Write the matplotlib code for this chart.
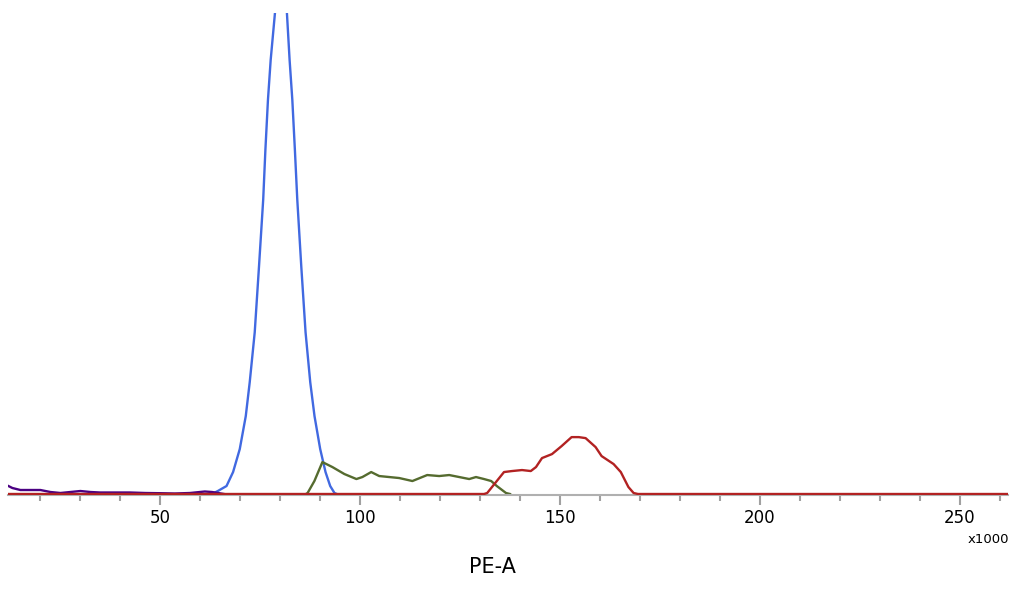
import numpy as np
import matplotlib.pyplot as plt
from matplotlib.ticker import MultipleLocator

# PE-A (x1000) and histogram heights
purple_x = [12.1, 13.1, 15.1, 17.6, 20.1, 22.6, 25.1, 27.6, 30.1, 32.6, 35.0, 40.0, 42.5,
            46.3, 50.0, 53.7, 57.5, 61.2, 63.0, 64.5, 66.0]
purple_y = [8, 6, 4, 4, 4, 2, 1, 2, 3, 2, 1.5, 1.5, 1.5, 1, 0.8, 0.5, 1, 2.5, 2, 1, 0]

blue_x = [63.0, 64.46, 66.63, 68.27, 69.94, 71.44, 72.43, 73.68, 74.75, 75.80, 76.35,
          76.99, 77.67, 78.74, 79.42, 80.23, 81.03, 81.73, 82.40, 83.08, 83.72, 84.32,
          85.32, 86.39, 87.56, 88.63, 90.05, 91.38, 92.55, 93.62, 94.2]
blue_y = [0, 3, 8, 22, 45, 78, 112, 162, 228, 295, 345, 395, 435, 482, 520, 540, 520,
          482, 435, 395, 345, 295, 228, 162, 112, 78, 45, 22, 8, 1, 0]

green_x = [86.5, 86.9, 88.6, 90.6, 93.1, 96.1, 99.1, 100.6, 102.8, 104.8, 107.3, 109.8,
           113.1, 116.8, 119.8, 122.3, 124.8, 127.3, 129.0, 131.0, 132.8, 134.2, 136.5,
           137.5]
green_y = [0, 1, 13, 32, 27, 20, 15, 17, 22, 18, 17, 16, 13, 19, 18, 19, 17, 15, 17, 15,
           13, 8, 1, 0]

red_x = [12, 131.0, 131.8, 134.0, 136.0, 138.0, 140.5, 142.7, 144.0, 145.5, 148.0, 150.4,
         152.9, 154.7, 156.4, 158.9, 160.4, 163.4, 165.2, 167.1, 168.4, 169.5, 262]
red_y = [0, 0, 1, 12, 22, 23, 24, 23, 27, 36, 40, 48, 57, 57, 56, 47, 38, 30, 22, 7, 1, 0, 0]

fig = plt.figure(figsize=(10.18, 5.92), dpi=100)
ax = fig.add_axes([8 / 1018, 97 / 592, 1000 / 1018, 482 / 592])

ax.plot(blue_x, blue_y, color="#4169e1", lw=1.7, solid_joinstyle="round")
ax.plot(green_x, green_y, color="#556b2f", lw=1.7, solid_joinstyle="round")
ax.plot(purple_x, purple_y, color="#4b0082", lw=1.7, solid_joinstyle="round")
ax.plot(red_x, red_y, color="#b22222", lw=1.7, solid_joinstyle="round", zorder=3)

ax.set_xlim(12, 262)
ax.set_ylim(-1, 482)

for s in ["top", "right", "left"]:
    ax.spines[s].set_visible(False)
ax.spines["bottom"].set_color("#b0b0b0")
ax.spines["bottom"].set_linewidth(1.5)
ax.yaxis.set_visible(False)

ax.xaxis.set_major_locator(MultipleLocator(50))
ax.xaxis.set_minor_locator(MultipleLocator(10))
ax.tick_params(axis="x", which="major", length=7, width=1.5, color="#a0a0a0",
               labelsize=12, pad=3)
ax.tick_params(axis="x", which="minor", length=4, width=1.5, color="#a0a0a0")

fig.text(0.971, 0.089, "x1000", fontsize=9.5, ha="center", va="center")
fig.text(0.484, 0.043, "PE-A", fontsize=15, ha="center", va="center")

fig.savefig("out.png", dpi=100)
